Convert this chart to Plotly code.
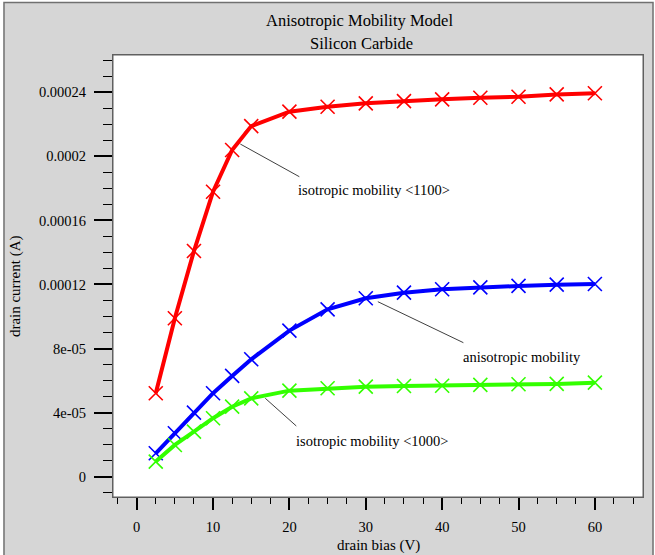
import plotly.graph_objects as go

# ---- data ----
drain_bias = [2.5, 5, 7.5, 10, 12.5, 15, 20, 25, 30, 35, 40, 45, 50, 55, 60]
iso_1100 = [5.21e-5, 9.89e-5, 1.409e-4, 1.779e-4, 2.040e-4, 2.189e-4, 2.279e-4, 2.310e-4,
            2.331e-4, 2.345e-4, 2.356e-4, 2.366e-4, 2.372e-4, 2.387e-4, 2.394e-4]
aniso = [1.46e-5, 2.71e-5, 4.00e-5, 5.21e-5, 6.29e-5, 7.33e-5, 9.12e-5, 1.045e-4,
         1.114e-4, 1.149e-4, 1.170e-4, 1.182e-4, 1.191e-4, 1.199e-4, 1.203e-4]
iso_1000 = [9.4e-6, 1.98e-5, 2.81e-5, 3.65e-5, 4.37e-5, 4.89e-5, 5.37e-5, 5.52e-5,
            5.62e-5, 5.66e-5, 5.68e-5, 5.73e-5, 5.77e-5, 5.79e-5, 5.87e-5]

x_tickvals = [0, 10, 20, 30, 40, 50, 60]
x_ticktext = ["0", "10", "20", "30", "40", "50", "60"]
y_tickvals = [0, 4e-5, 8e-5, 1.2e-4, 1.6e-4, 2e-4, 2.4e-4]
y_ticktext = ["0", "4e-05", "8e-05", "0.00012", "0.00016", "0.0002", "0.00024"]

title_line1 = "Anisotropic Mobility Model"
title_line2 = "Silicon Carbide"
x_title = "drain bias (V)"
y_title = "drain current (A)"

# labels: (text, text x, text y, leader from (x,y), leader to (x,y))
labels = [
    ("isotropic mobility <1100>", 20.9, 1.790e-4, (13.57, 2.077e-4), (21.3, 1.873e-4)),
    ("anisotropic mobility", 42.5, 7.45e-5, (31.58, 1.0925e-4), (42.78, 8.366e-5)),
    ("isotropic mobility <1000>", 20.6, 2.25e-5, (16.84, 4.894e-5), (20.9, 3.165e-5)),
]

FONT = "Liberation Serif, Times New Roman, serif"
GRAY = "#d6d6d6"

fig = go.Figure()

series = [(iso_1100, "#ff0000"), (aniso, "#0000ff"), (iso_1000, "#33ff00")]
for ys, col in series:
    fig.add_trace(go.Scatter(
        x=drain_bias, y=ys, mode="lines+markers",
        line=dict(color=col, width=4),
        marker=dict(symbol="x-thin", size=14, color=col,
                    line=dict(color=col, width=1.6)),
        showlegend=False, cliponaxis=False))

shapes = [
    # outer gray panel
    dict(type="rect", xref="paper", yref="paper", x0=-0.2057, x1=1.0189, y0=-0.16, y1=1.1188,
         fillcolor=GRAY, line=dict(color="#707070", width=1.5), layer="below"),
    # white plotting area
    dict(type="rect", xref="paper", yref="paper", x0=0, x1=1, y0=0, y1=1,
         fillcolor="white", line=dict(color="#606060", width=1), layer="below"),
]
annotations = []
for text, tx, ty, p0, p1 in labels:
    shapes.append(dict(type="line", xref="x", yref="y", x0=p0[0], y0=p0[1], x1=p1[0], y1=p1[1],
                       line=dict(color="#404040", width=1)))
    annotations.append(dict(text=text, x=tx, y=ty, xref="x", yref="y", showarrow=False,
                            xanchor="left", yanchor="middle",
                            font=dict(family=FONT, size=14.5, color="black")))

annotations += [
    dict(text=title_line1, x=0.466, y=1.079, xref="paper", yref="paper", showarrow=False,
         xanchor="center", yanchor="middle", font=dict(family=FONT, size=16.5, color="black")),
    dict(text=title_line2, x=0.468, y=1.027, xref="paper", yref="paper", showarrow=False,
         xanchor="center", yanchor="middle", font=dict(family=FONT, size=16.5, color="black")),
    dict(text=x_title, x=0.5, y=-0.1305, xref="paper", yref="paper", showarrow=False,
         xanchor="center", yanchor="bottom", borderpad=0,
         font=dict(family=FONT, size=15, color="black")),
    dict(text=y_title, x=-0.185, y=0.477, xref="paper", yref="paper", showarrow=False,
         textangle=-90, xanchor="center", yanchor="middle",
         font=dict(family=FONT, size=15, color="black")),
]

fig.update_layout(
    width=655, height=555,
    margin=dict(l=113, r=12, t=55, b=58),
    paper_bgcolor="white", plot_bgcolor="white",
    font=dict(family=FONT, size=14.5, color="black"),
    shapes=shapes, annotations=annotations,
    xaxis=dict(range=[-3.1, 66.3], showgrid=False, zeroline=False,
               showline=True, linecolor="#606060", linewidth=1, mirror=True,
               tickmode="array", tickvals=x_tickvals, ticktext=x_ticktext,
               ticks="outside", ticklen=12, tickwidth=2, tickcolor="black",
               ticklabelstandoff=5,
               minor=dict(dtick=2.5, tick0=0, ticks="outside", ticklen=6, tickwidth=1,
                          tickcolor="black", showgrid=False),
               tickfont=dict(family=FONT, size=14.5, color="black")),
    yaxis=dict(range=[-1.27e-5, 2.633e-4], showgrid=False, zeroline=False,
               showline=True, linecolor="#606060", linewidth=1, mirror=True,
               tickmode="array", tickvals=y_tickvals, ticktext=y_ticktext,
               ticks="outside", ticklen=18, tickwidth=2, tickcolor="black",
               ticklabelstandoff=5,
               minor=dict(dtick=1e-5, tick0=0, ticks="outside", ticklen=9, tickwidth=1,
                          tickcolor="black", showgrid=False),
               tickfont=dict(family=FONT, size=14.5, color="black")),
)

fig.write_html("out.html")
